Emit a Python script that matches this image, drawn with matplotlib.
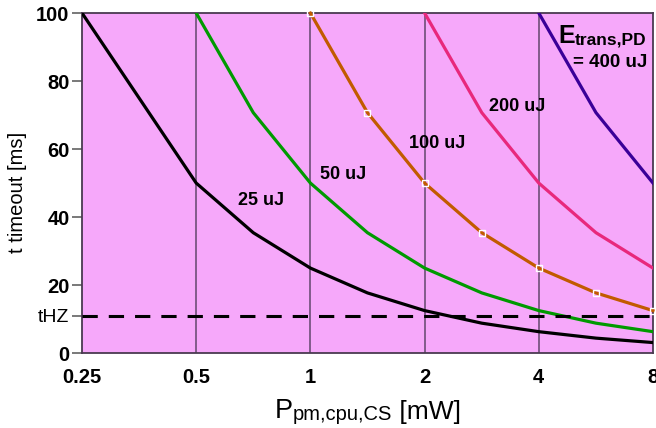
import numpy as np
import matplotlib
matplotlib.use('Agg')
import matplotlib.pyplot as plt
from matplotlib.ticker import FixedLocator, FixedFormatter, NullLocator

plt.rcParams['font.family'] = ['Liberation Sans', 'DejaVu Sans']

# energy curves: t_timeout [ms] vs P [mW]
p_25 = [0.25, 0.5, 0.707, 1, 1.414, 2, 2.83, 4, 5.66, 8]
t_25 = [100, 50, 35.4, 25, 17.7, 12.5, 8.8, 6.3, 4.4, 3.1]
p_50 = [0.5, 0.707, 1, 1.414, 2, 2.83, 4, 5.66, 8]
t_50 = [100, 70.7, 50, 35.4, 25, 17.7, 12.5, 8.8, 6.3]
p_100 = [1, 1.414, 2, 2.83, 4, 5.66, 8]
t_100 = [100, 70.7, 50, 35.4, 25, 17.7, 12.5]
p_200 = [2, 2.83, 4, 5.66, 8]
t_200 = [100, 70.7, 50, 35.4, 25]
p_400 = [4, 5.66, 8]
t_400 = [100, 70.7, 50]
t_hz = 11

x_ticks = [0.25, 0.5, 1, 2, 4, 8]
x_labels = ['0.25', '0.5', '1', '2', '4', '8']
y_ticks = [0, 20, 40, 60, 80, 100]

fig = plt.figure(figsize=(6.56, 4.28), dpi=100)
ax = fig.add_axes([0.125, 0.175, 0.8704, 0.7946])
ax.set_facecolor('#F6A8FA')

ax.set_xscale('log', base=2)
ax.set_xlim(0.25, 8)
ax.set_ylim(0, 100)

for gx in [0.5, 1, 2, 4]:
    ax.axvline(gx, color='#6E4E78', lw=1.2, zorder=1)

lw = 2.3
ax.plot(p_25, t_25, color='black', lw=lw, zorder=3)
ax.plot(p_50, t_50, color='#009A00', lw=lw, zorder=3)
ax.plot(p_100, t_100, color='#C25A00', lw=lw, zorder=3, marker='s', ms=5,
        mfc='none', mec='white', mew=1.0, clip_on=False)
ax.plot(p_200, t_200, color='#E8287C', lw=lw, zorder=3)
ax.plot(p_400, t_400, color='#3A0098', lw=lw, zorder=3)

ax.axhline(t_hz, color='black', lw=2.2, ls=(0, (5, 3.6)), zorder=4)

ax.xaxis.set_major_locator(FixedLocator(x_ticks))
ax.xaxis.set_major_formatter(FixedFormatter(x_labels))
ax.xaxis.set_minor_locator(NullLocator())
ax.tick_params(axis='x', length=0, pad=11)
for lab in ax.get_xticklabels():
    lab.set_fontsize(14.5)
    lab.set_fontweight('bold')

ax.set_yticks(y_ticks + [t_hz])
ax.set_yticklabels([str(v) for v in y_ticks] + ['tHZ'])
ax.tick_params(axis='y', length=7, width=1.3, color='#6E6E6E', pad=2)
for lab in ax.get_yticklabels():
    lab.set_fontsize(14.5)
    lab.set_fontweight('bold')
ax.get_yticklabels()[-1].set_fontweight('normal')
ax.get_yticklabels()[-1].set_fontsize(14)

for s in ax.spines.values():
    s.set_color('#4A3A50')
    s.set_linewidth(1.3)

# curve labels
lab_kw = dict(fontsize=13, fontweight='bold', ha='center', va='center')
ax.text(0.74, 45, '25 uJ', **lab_kw)
ax.text(1.22, 52.5, '50 uJ', **lab_kw)
ax.text(2.16, 61.5, '100 uJ', **lab_kw)
ax.text(3.5, 72.5, '200 uJ', **lab_kw)

e_txt = ax.text(0.834, 0.912, 'E', transform=ax.transAxes, fontsize=18,
                fontweight='bold', ha='left', va='baseline')
ax.annotate('trans,PD', xy=(1, 0), xycoords=e_txt, fontsize=12.5,
            fontweight='bold', ha='left', va='bottom')
ax.text(0.991, 0.854, '= 400 uJ', transform=ax.transAxes, fontsize=13.5,
        fontweight='bold', ha='right', va='center')

# axis labels
fig.text(0.026, 0.551, 't timeout [ms]', rotation=90, fontsize=14.5,
         ha='center', va='center')
p_txt = fig.text(0.419, 0.023, 'P', fontsize=19.5, ha='left', va='baseline')
s2 = fig.text(0, 0, '')
s2 = ax.annotate('pm,cpu,CS', xy=(1, 0), xycoords=p_txt, fontsize=14.5,
                 ha='left', va='bottom', annotation_clip=False)
ax.annotate(' [mW]', xy=(1, 0), xycoords=s2, fontsize=19,
            ha='left', va='bottom', annotation_clip=False)

fig.savefig('out.png', dpi=100)
